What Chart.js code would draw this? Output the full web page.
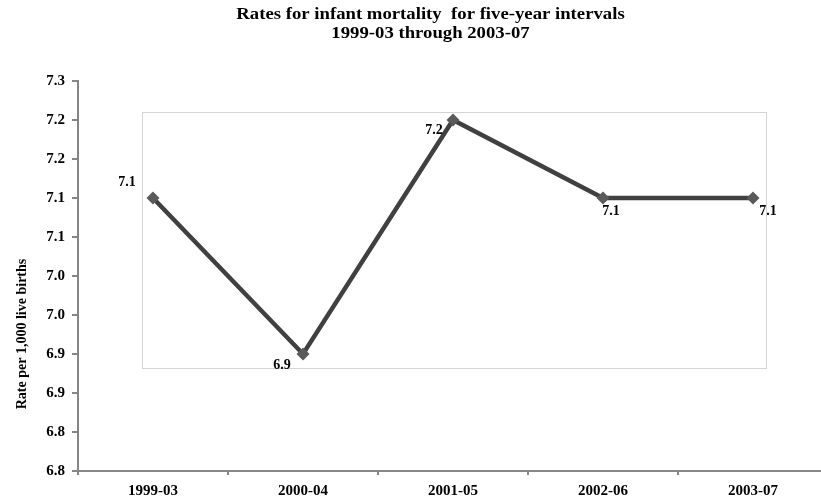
<!DOCTYPE html>
<html>
<head>
<meta charset="utf-8">
<script src="https://cdn.jsdelivr.net/npm/chart.js@4/dist/chart.umd.min.js"></script>
<style>
  html, body { margin: 0; padding: 0; background: #fff; overflow: hidden; width: 821px; height: 501px; }
  #wrap { position: absolute; left: 0; top: 0; width: 840px; height: 501px; }
</style>
</head>
<body>
<div id="wrap"><canvas id="c" width="840" height="501"></canvas></div>
<script>
// Five-year interval infant mortality rates
const categories = ['1999-03', '2000-04', '2001-05', '2002-06', '2003-07'];
const rates = [7.1, 6.9, 7.2, 7.1, 7.1];
const yTickLabels = ['6.8', '6.8', '6.9', '6.9', '7.0', '7.0', '7.1', '7.1', '7.2', '7.2', '7.3'];
const titleLines = ['Rates for infant mortality  for five-year intervals', '1999-03 through 2003-07'];
const yAxisTitle = 'Rate per 1,000 live births';

const SERIF = '"Liberation Serif", "Times New Roman", serif';
const AXIS_GRAY = '#868686';

// where each value label sits relative to its marker (dx, dy in px)
const labelNudge = [[-26, -16], [-21, 11], [-19, 10], [8, 13], [15, 13]];

// thin frame behind the line, in axis units
const frameBox = { x0: -0.073, x1: 4.087, y0: 6.882, y1: 7.21 };

const framePlugin = {
  id: 'frame',
  beforeDatasetsDraw(chart) {
    const { ctx, scales: { x, y } } = chart;
    const l = Math.round(x.getPixelForValue(frameBox.x0)) + 0.5;
    const r = Math.round(x.getPixelForValue(frameBox.x1)) + 0.5;
    const t = Math.round(y.getPixelForValue(frameBox.y1)) + 0.5;
    const b = Math.round(y.getPixelForValue(frameBox.y0)) + 0.5;
    ctx.save();
    ctx.strokeStyle = '#d4d4d4';
    ctx.lineWidth = 1;
    ctx.strokeRect(l, t, r - l, b - t);
    ctx.restore();
  }
};

const textPlugin = {
  id: 'texts',
  afterDraw(chart) {
    const { ctx } = chart;
    ctx.save();
    ctx.fillStyle = '#000';
    // heading, set a little wide
    ctx.save();
    ctx.translate(430.5, 0);
    ctx.scale(1.17, 1);
    ctx.font = 'bold 16px ' + SERIF;
    ctx.textAlign = 'center';
    ctx.textBaseline = 'alphabetic';
    ctx.fillText(titleLines[0], 0, 18.5);
    ctx.fillText(titleLines[1], 0, 37.5);
    ctx.restore();
    // value axis title
    ctx.save();
    ctx.translate(22.5, 334);
    ctx.rotate(-Math.PI / 2);
    ctx.font = 'bold 14px ' + SERIF;
    ctx.textAlign = 'center';
    ctx.textBaseline = 'middle';
    ctx.fillText(yAxisTitle, 0, 0);
    ctx.restore();
    // value labels
    const meta = chart.getDatasetMeta(0);
    ctx.font = 'bold 14px ' + SERIF;
    ctx.textAlign = 'center';
    ctx.textBaseline = 'middle';
    meta.data.forEach((pt, i) => {
      const [dx, dy] = labelNudge[i];
      ctx.fillText(rates[i].toFixed(1), pt.x + dx, pt.y + dy);
    });
    ctx.restore();
  }
};

new Chart(document.getElementById('c'), {
  type: 'line',
  data: {
    labels: categories,
    datasets: [{
      data: rates,
      borderColor: '#404040',
      borderWidth: 4.5,
      tension: 0,
      pointStyle: 'rectRot',
      pointRadius: 6.5,
      pointBackgroundColor: '#5a5a5a',
      pointBorderColor: '#5a5a5a',
      pointBorderWidth: 0,
      clip: false
    }]
  },
  options: {
    responsive: false,
    animation: false,
    devicePixelRatio: 1,
    layout: { padding: { top: 81, right: 12, bottom: 0, left: 0 } },
    plugins: { legend: { display: false }, title: { display: false }, tooltip: { enabled: false } },
    scales: {
      x: {
        offset: true,
        afterFit(s) { s.height = 30; },
        grid: { offset: true, drawOnChartArea: false, tickLength: 4, color: AXIS_GRAY, lineWidth: 2 },
        border: { color: AXIS_GRAY, width: 2 },
        ticks: { color: '#000', font: { family: SERIF, size: 15, weight: 'bold' }, padding: 7, maxRotation: 0 }
      },
      y: {
        min: 6.75,
        max: 7.25,
        afterFit(s) { s.width = 78; },
        afterBuildTicks(s) {
          s.ticks = yTickLabels.map((_, i) => ({ value: 6.75 + i * 0.05 }));
        },
        grid: { drawOnChartArea: false, tickLength: 6, color: AXIS_GRAY, lineWidth: 2 },
        border: { color: AXIS_GRAY, width: 2 },
        ticks: {
          color: '#000',
          font: { family: SERIF, size: 15, weight: 'bold' },
          padding: 7,
          callback: (v, i) => yTickLabels[i]
        }
      }
    }
  },
  plugins: [framePlugin, textPlugin]
});
</script>
</body>
</html>
